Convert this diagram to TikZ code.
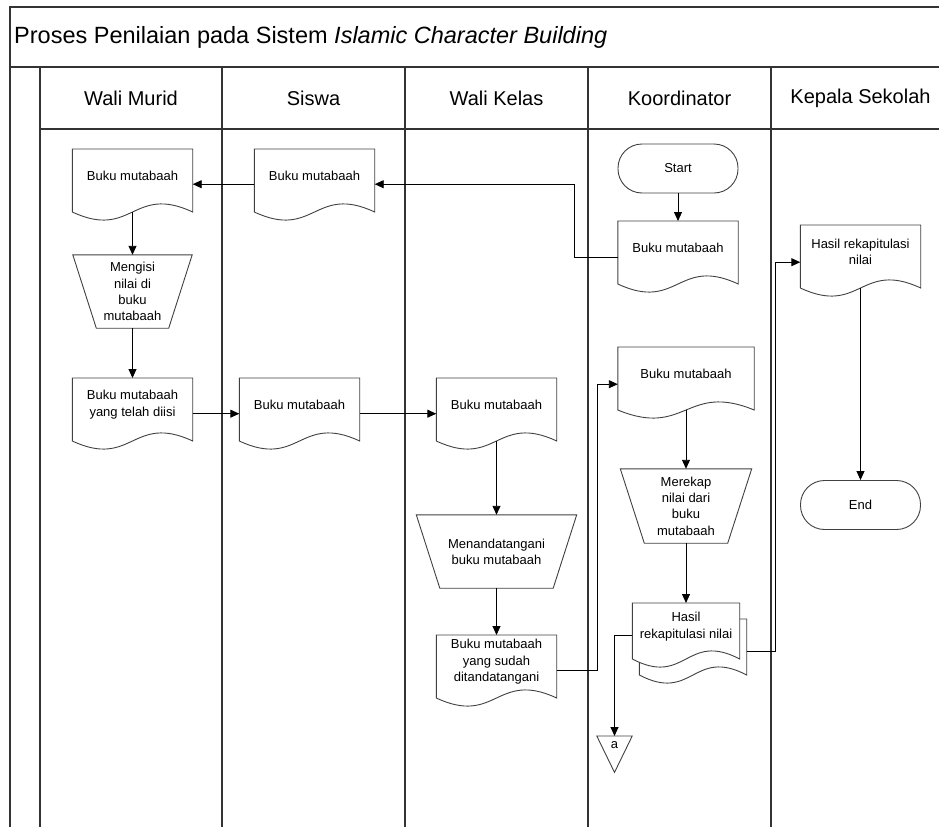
\documentclass[tikz,border=0pt]{standalone}
\usepackage{fontspec}
\setmainfont{Liberation Sans}
\usetikzlibrary{arrows.meta,backgrounds}
\newcommand\docout[3]{% name, width, side height
  \draw[shp] (#1.north west) -- (#1.north east) -- ++(0,#3)
    .. controls +(-#2/2,-28) and +(#2/2,28) .. ([yshift=-#3pt]#1.north west) -- cycle;}
\newcommand\manout[2]{% name, inset
  \draw[shp] (#1.north west) -- (#1.north east) -- ([xshift=-#2pt]#1.south east)
    -- ([xshift=#2pt]#1.south west) -- cycle;}
\begin{document}
\begin{tikzpicture}[x=1pt,y=-1pt,
  lane/.style={draw=black!80, line width=1.4pt},
  shp/.style={draw=black!75, line width=0.9pt},
  arr/.style={draw=black, line width=0.9pt, -{Triangle[length=9pt,width=8pt]}},
  small/.style={font=\fontsize{13}{16.3}\selectfont, align=center, inner sep=0pt},
  docn/.style={small, minimum width=#1, minimum height=53pt, anchor=north},
  mann/.style={small, minimum width=#1, minimum height=73pt},
  term/.style={small, draw=black!75, line width=0.9pt, rounded corners=24pt,
    minimum width=120pt, minimum height=49pt},
  head/.style={font=\fontsize{20}{24}\selectfont, inner sep=0pt}]
\useasboundingbox (0,0) rectangle (939,827);
% frame
\draw[lane] (939,7) -- (10,7) -- (10,827);
\draw[lane] (10,67) -- (939,67);
\draw[lane] (40,129) -- (939,129);
\foreach \x in {40,222,405,588,771} \draw[lane] (\x,67) -- (\x,827);
\node[anchor=west, inner sep=0pt, font=\fontsize{23.5}{28}\selectfont] (title) at (14,37)
  {Proses Penilaian pada Sistem \textit{Islamic Character Building}};
\node[head] (h1) at (131,98) {Wali Murid};
\node[head] (h2) at (313.5,98) {Siswa};
\node[head] (h3) at (496.5,98) {Wali Kelas};
\node[head] (h4) at (679.5,98) {Koordinator};
\node[head] (h5) at (860.5,98) {Kepala Sekolah};
% nodes
\node[docn=120pt] (wm1) at (132.5,149) {Buku mutabaah};
\node[mann=119pt] (mw) at (132.5,291.5) {Mengisi\\nilai di\\buku\\mutabaah};
\node[docn=120pt] (wm2) at (132.5,378) {Buku mutabaah\\yang telah diisi};
\node[docn=120pt] (sw1) at (314.5,149) {Buku mutabaah};
\node[docn=120pt] (sw2) at (299.5,378) {Buku mutabaah};
\node[docn=120pt] (wk1) at (496.5,378) {Buku mutabaah};
\node[mann=160pt] (mt) at (496.5,551.5) {Menandatangani\\buku mutabaah};
\node[docn=120pt] (wk2) at (496.5,635) {Buku mutabaah\\yang sudah\\ditandatangani};
\node[term] (start) at (678,168.5) {Start};
\node[docn=120pt] (ko1) at (678,221) {Buku mutabaah};
\node[docn=136pt] (ko2) at (686,347) {Buku mutabaah};
\node[small, minimum width=131pt, minimum height=74pt] (mr) at (686,506) {Merekap\\nilai dari\\buku\\mutabaah};
\node[docn=107pt, minimum height=47pt] (hr) at (686,603) {Hasil\\rekapitulasi nilai};
\node[small, minimum width=35pt, minimum height=18pt, anchor=north] (offp) at (614.5,736) {a};
\node[docn=120pt] (kp1) at (860.5,225) {Hasil rekapitulasi\\nilai};
\node[term] (end) at (860.5,505) {End};
% outlines
\docout{wm1}{120}{63}
\docout{wm2}{120}{63}
\docout{sw1}{120}{63}
\docout{sw2}{120}{63}
\docout{wk1}{120}{63}
\docout{wk2}{120}{63}
\docout{ko1}{120}{63}
\docout{ko2}{136}{63}
\docout{kp1}{120}{63}
\manout{mw}{23.5}
\manout{mt}{23.5}
\manout{mr}{24}
\begin{pgfonlayer}{background}
\draw[shp, fill=white] ([shift={(7,16)}]hr.north west) -- ([shift={(7,16)}]hr.north east) -- ++(0,56)
  .. controls +(-53.5,-28) and +(53.5,28) .. ([shift={(7,72)}]hr.north west) -- cycle;
\fill[white] (hr.north west) -- (hr.north east) -- ++(0,56)
  .. controls +(-53.5,-28) and +(53.5,28) .. ([yshift=-56pt]hr.north west) -- cycle;
\end{pgfonlayer}
\docout{hr}{107}{56}
\draw[shp] (offp.north west) -- (offp.north east) -- ([yshift=-18pt]offp.south) -- cycle;
% connectors
\draw[arr] ([yshift=-9.5pt]ko1.west) -- ++(-43,0) |- ([yshift=-8.5pt]sw1.east);
\draw[arr] ([yshift=-8.5pt]sw1.west) -- ([yshift=-8.5pt]wm1.east);
\draw[arr] (start.south) -- (ko1.north);
\draw[arr] ([yshift=-10pt]wm1.south) -- (mw.north);
\draw[arr] (mw.south) -- (wm2.north);
\draw[arr] ([yshift=-9pt]wm2.east) -- ([yshift=-9pt]sw2.west);
\draw[arr] ([yshift=-9pt]sw2.east) -- ([yshift=-9pt]wk1.west);
\draw[arr] ([yshift=-10pt]wk1.south) -- (mt.north);
\draw[arr] (mt.south) -- (wk2.north);
\draw[arr] ([yshift=-8.5pt]wk2.east) -- ++(40.5,0) |- ([yshift=-10.5pt]ko2.west);
\draw[arr] ([yshift=-10pt]ko2.south) -- (mr.north);
\draw[arr] (mr.south) -- (hr.north);
\draw[arr] ([yshift=-8.5pt]hr.west) -| (offp.north);
\draw[arr] ([shift={(7,24.5)}]hr.east) -- ++(29,0) |- ([yshift=-10.5pt]kp1.west);
\draw[arr] ([yshift=-10pt]kp1.south) -- (end.north);
\end{tikzpicture}
\end{document}
